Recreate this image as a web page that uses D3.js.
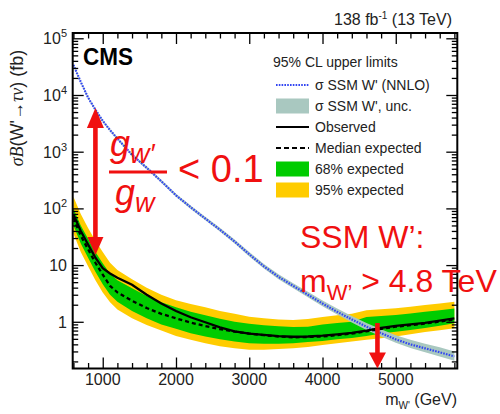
<!DOCTYPE html>
<html>
<head>
<meta charset="utf-8">
<script src="https://cdn.jsdelivr.net/npm/d3@7"></script>
<style>
  body { margin: 0; background: #fff; }
  text { font-family: "Liberation Sans", Arial, sans-serif; }
</style>
</head>
<body>
<div id="chart"></div>
<script>
// mass points (GeV) and limits (fb)
var masses = [600, 700, 800, 900, 1000, 1100, 1200, 1400, 1600, 1800, 2000, 2200, 2400, 2600, 2800,
              3000, 3200, 3400, 3600, 3800, 4000, 4200, 4400, 4600, 4800, 5000, 5200, 5400, 5600, 5800];
var observed = [78, 40, 23, 13.5, 8.8, 7.1, 6.0, 4.5, 3.0, 2.1, 1.55, 1.2, 0.98, 0.8, 0.68,
                0.62, 0.59, 0.56, 0.545, 0.55, 0.57, 0.60, 0.64, 0.70, 0.78, 0.85, 0.90, 0.96, 1.05, 1.15];
var expected = [68, 33, 19, 11, 6.8, 4.3, 3.3, 2.35, 1.75, 1.38, 1.15, 0.97, 0.84, 0.74, 0.67,
                0.62, 0.58, 0.55, 0.53, 0.54, 0.55, 0.58, 0.62, 0.68, 0.75, 0.82, 0.87, 0.93, 1.01, 1.10];
var exp68Lo = [50, 24, 13.5, 7.6, 4.6, 3.0, 2.25, 1.55, 1.15, 0.9, 0.75, 0.63, 0.55, 0.49, 0.45,
               0.42, 0.41, 0.41, 0.42, 0.44, 0.46, 0.49, 0.52, 0.56, 0.62, 0.67, 0.72, 0.78, 0.85, 0.94];
var exp68Hi = [100, 50, 29, 17, 10.8, 7.0, 5.4, 3.9, 2.85, 2.2, 1.8, 1.5, 1.3, 1.13, 1.0,
               0.92, 0.87, 0.83, 0.81, 0.82, 0.90, 0.95, 1.0, 1.22, 1.26, 1.32, 1.4, 1.5, 1.6, 1.72];
var exp95Lo = [36, 17, 9.5, 5.4, 3.3, 2.2, 1.65, 1.15, 0.88, 0.7, 0.56, 0.48, 0.42, 0.37, 0.34,
               0.32, 0.32, 0.33, 0.34, 0.36, 0.39, 0.42, 0.45, 0.48, 0.51, 0.55, 0.6, 0.66, 0.71, 0.77];
var exp95Hi = [160, 80, 45, 27, 17, 11, 8.2, 5.6, 4.0, 3.0, 2.4, 2.05, 1.8, 1.55, 1.38,
               1.23, 1.15, 1.1, 1.08, 1.12, 1.22, 1.3, 1.38, 1.6, 1.66, 1.73, 1.85, 1.97, 2.1, 2.25];
var theory = [34000, 17000, 9000, 5500, 3500, 2400, 1700, 880, 520, 300, 170, 105, 66, 42, 26,
              15.5, 9.5, 6.2, 4.3, 3.0, 2.1, 1.5, 1.1, 0.82, 0.63, 0.49, 0.40, 0.34, 0.29, 0.245];
var theoryLo = [32600, 16300, 8600, 5270, 3350, 2290, 1620, 835, 492, 283, 160, 98, 61.5, 39, 24,
                14.2, 8.7, 5.65, 3.9, 2.7, 1.88, 1.34, 0.97, 0.72, 0.55, 0.425, 0.345, 0.29, 0.245, 0.205];
var theoryHi = [35400, 17700, 9400, 5750, 3660, 2520, 1790, 930, 552, 320, 182, 113, 71.5, 45.5, 28.3,
                17, 10.5, 6.9, 4.8, 3.38, 2.38, 1.71, 1.27, 0.95, 0.74, 0.58, 0.48, 0.41, 0.355, 0.3];

var xTicks = [1000, 2000, 3000, 4000, 5000];
var yTicks = [1, 10, 100, 1000, 10000, 100000];
var yTickExp = [0, 1, 2, 3, 4, 5];

var legendItems = ["\u03c3 SSM W' (NNLO)", "\u03c3 SSM W', unc.", "Observed", "Median expected", "68% expected", "95% expected"];

// annotation anchors (data coordinates)
var couplingMass = 900, couplingTop = 5900, couplingBottom = 15;
var limitMass = 4750, limitTop = 0.95;

var colGreen = "#00cc00", colYellow = "#ffcc00", colTheoryBand = "#a9c8c0", colTheory = "#3346f2", colRed = "#f01010";

var frame = { left: 72.7, right: 457.3, top: 33, bottom: 368.5 };

var svg = d3.select("#chart")
    .append("svg")
    .attr("width", 500)
    .attr("height", 414);

var x = d3.scaleLinear().domain([590, 5840]).range([frame.left, frame.right]);
var y = d3.scaleLog().domain([0.15, 1.24e5]).range([frame.bottom, frame.top]);

svg.append("clipPath").attr("id", "clip")
    .append("rect")
    .attr("x", frame.left).attr("y", frame.top)
    .attr("width", frame.right - frame.left).attr("height", frame.bottom - frame.top);

var plot = svg.append("g").attr("clip-path", "url(#clip)");

function band(lo, hi) {
    return d3.area()
        .x(function (d, i) { return x(masses[i]); })
        .y0(function (d, i) { return y(lo[i]); })
        .y1(function (d, i) { return y(hi[i]); })(masses);
}
function line(vals) {
    return d3.line()
        .x(function (d, i) { return x(masses[i]); })
        .y(function (d) { return y(d); })(vals);
}

plot.append("path").attr("d", band(exp95Lo, exp95Hi)).attr("fill", colYellow);
plot.append("path").attr("d", band(exp68Lo, exp68Hi)).attr("fill", colGreen);
plot.append("path").attr("d", band(theoryLo, theoryHi)).attr("fill", colTheoryBand);
plot.append("path").attr("d", line(theory))
    .attr("fill", "none").attr("stroke", colTheory).attr("stroke-width", 2.2)
    .attr("stroke-dasharray", "1.6,1.2");
plot.append("path").attr("d", line(expected))
    .attr("fill", "none").attr("stroke", "#000").attr("stroke-width", 2.3)
    .attr("stroke-dasharray", "4,3");
plot.append("path").attr("d", line(observed))
    .attr("fill", "none").attr("stroke", "#000").attr("stroke-width", 2.3);

// minor ticks
var xMinor = d3.range(600, 5801, 200).filter(function (m) { return m % 1000 != 0; });
var yMinor = [];
[0.1, 1, 10, 100, 1000, 10000].forEach(function (dec) {
    for (var k = 2; k <= 9; k++) yMinor.push(dec * k);
});
yMinor = yMinor.filter(function (v) { return v > 0.15 && v < 1.24e5; });

function tickAxis(axis, transform) {
    var g = svg.append("g").attr("transform", transform).call(axis);
    g.select(".domain").remove();
    g.selectAll("line").attr("stroke", "#000").attr("stroke-width", 1.3);
    return g;
}
tickAxis(d3.axisBottom(x).tickValues(xTicks).tickSize(-11).tickFormat(""), "translate(0," + frame.bottom + ")");
tickAxis(d3.axisBottom(x).tickValues(xMinor).tickSize(-5.5).tickFormat(""), "translate(0," + frame.bottom + ")");
tickAxis(d3.axisTop(x).tickValues(xTicks).tickSize(-11).tickFormat(""), "translate(0," + frame.top + ")");
tickAxis(d3.axisTop(x).tickValues(xMinor).tickSize(-5.5).tickFormat(""), "translate(0," + frame.top + ")");
tickAxis(d3.axisLeft(y).tickValues(yTicks).tickSize(-11).tickFormat(""), "translate(" + frame.left + ",0)");
tickAxis(d3.axisLeft(y).tickValues(yMinor).tickSize(-5.5).tickFormat(""), "translate(" + frame.left + ",0)");
tickAxis(d3.axisRight(y).tickValues(yTicks).tickSize(-11).tickFormat(""), "translate(" + frame.right + ",0)");
tickAxis(d3.axisRight(y).tickValues(yMinor).tickSize(-5.5).tickFormat(""), "translate(" + frame.right + ",0)");

// frame
svg.append("rect")
    .attr("x", frame.left).attr("y", frame.top)
    .attr("width", frame.right - frame.left).attr("height", frame.bottom - frame.top)
    .attr("fill", "none").attr("stroke", "#000").attr("stroke-width", 2);

// x tick labels
svg.selectAll(".xlab").data(xTicks).enter().append("text")
    .attr("class", "xlab")
    .attr("x", function (d) { return x(d); })
    .attr("y", 385)
    .attr("text-anchor", "middle")
    .attr("font-size", 16)
    .attr("fill", "#222")
    .text(function (d) { return d; });

// y tick labels
yTicks.forEach(function (v, i) {
    var e = yTickExp[i];
    var t = svg.append("text")
        .attr("x", 67)
        .attr("y", y(v) + 6)
        .attr("text-anchor", "end")
        .attr("font-size", 16)
        .attr("fill", "#222");
    if (e < 2) {
        t.text(v);
    } else {
        t.append("tspan").text("10");
        t.append("tspan").attr("font-size", 11).attr("dy", -7).text(e);
    }
});

// axis titles
var yl = svg.append("text")
    .attr("transform", "translate(23,108) rotate(-90)")
    .attr("text-anchor", "middle")
    .attr("font-size", 18)
    .attr("fill", "#222");
yl.append("tspan").attr("font-family", "Liberation Serif").attr("font-style", "italic").text("\u03c3B");
yl.append("tspan").text("(W'");
yl.append("tspan").text("\u2192");
yl.append("tspan").attr("font-family", "Liberation Serif").attr("font-style", "italic").text("\u03c4\u03bd");
yl.append("tspan").text(")  (fb)");

var xl = svg.append("text")
    .attr("x", 457).attr("y", 405)
    .attr("text-anchor", "end")
    .attr("font-size", 16)
    .attr("fill", "#222");
xl.append("tspan").text("m");
xl.append("tspan").attr("font-size", 10).attr("dy", 4).text("W'");
xl.append("tspan").attr("dy", -4).text(" (GeV)");

var lumi = svg.append("text")
    .attr("x", 452).attr("y", 25)
    .attr("text-anchor", "end")
    .attr("font-size", 16)
    .attr("fill", "#222");
lumi.append("tspan").text("138 fb");
lumi.append("tspan").attr("font-size", 10).attr("dy", -6).text("-1");
lumi.append("tspan").attr("dy", 6).text(" (13 TeV)");

svg.append("text")
    .attr("x", 83).attr("y", 65)
    .attr("font-size", 24)
    .attr("font-weight", "bold")
    .attr("textLength", 50)
    .attr("lengthAdjust", "spacingAndGlyphs")
    .text("CMS");

// legend
var lg = svg.append("g");
lg.append("text").attr("x", 273).attr("y", 67).attr("font-size", 14).attr("fill", "#222").text("95% CL upper limits");
var rowY = function (i) { return 85 + i * 21; };
lg.selectAll(".lt").data(legendItems).enter().append("text")
    .attr("class", "lt")
    .attr("x", 315)
    .attr("y", function (d, i) { return rowY(i) + 5; })
    .attr("font-size", 14)
    .attr("fill", "#222")
    .text(function (d) { return d; });
lg.append("line").attr("x1", 276).attr("x2", 309).attr("y1", rowY(0)).attr("y2", rowY(0))
    .attr("stroke", colTheory).attr("stroke-width", 2).attr("stroke-dasharray", "1.6,1.2");
lg.append("rect").attr("x", 276).attr("y", rowY(1) - 7.5).attr("width", 33).attr("height", 15).attr("fill", colTheoryBand);
lg.append("line").attr("x1", 276).attr("x2", 309).attr("y1", rowY(2)).attr("y2", rowY(2))
    .attr("stroke", "#000").attr("stroke-width", 2.2);
lg.append("line").attr("x1", 276).attr("x2", 309).attr("y1", rowY(3)).attr("y2", rowY(3))
    .attr("stroke", "#000").attr("stroke-width", 2.2).attr("stroke-dasharray", "5,3");
lg.append("rect").attr("x", 276).attr("y", rowY(4) - 7.5).attr("width", 33).attr("height", 15).attr("fill", colGreen);
lg.append("rect").attr("x", 276).attr("y", rowY(5) - 7.5).attr("width", 33).attr("height", 15).attr("fill", colYellow);

// red annotations
var ann = svg.append("g").attr("fill", colRed);
var ax = x(couplingMass), aTop = y(couplingTop), aBot = y(couplingBottom);
ann.append("rect").attr("x", ax - 2.3).attr("y", aTop + 15).attr("width", 4.6).attr("height", aBot - aTop - 30);
ann.append("path").attr("d", "M" + ax + "," + aTop + " L" + (ax - 8.5) + "," + (aTop + 20) + " L" + (ax + 8.5) + "," + (aTop + 20) + " Z");
ann.append("path").attr("d", "M" + ax + "," + aBot + " L" + (ax - 8) + "," + (aBot - 18) + " L" + (ax + 8) + "," + (aBot - 18) + " Z");

var lx = x(limitMass), lTop = y(limitTop);
ann.append("rect").attr("x", lx - 2.3).attr("y", lTop).attr("width", 4.6).attr("height", frame.bottom - lTop - 14);
ann.append("path").attr("d", "M" + lx + "," + frame.bottom + " L" + (lx - 8.5) + "," + (frame.bottom - 16) + " L" + (lx + 8.5) + "," + (frame.bottom - 16) + " Z");

// coupling fraction
var serif = "Liberation Serif, DejaVu Serif, serif";
var num = ann.append("text").attr("x", 110).attr("y", 156).attr("font-family", serif).attr("font-style", "italic").attr("font-size", 36);
num.append("tspan").text("g");
num.append("tspan").attr("font-size", 27).attr("dy", 7).text("w\u2032");
ann.append("rect").attr("x", 109).attr("y", 170.5).attr("width", 58).attr("height", 3);
var den = ann.append("text").attr("x", 115).attr("y", 205).attr("font-family", serif).attr("font-style", "italic").attr("font-size", 36);
den.append("tspan").text("g");
den.append("tspan").attr("font-size", 27).attr("dy", 7).text("w");
ann.append("text").attr("x", 178).attr("y", 182).attr("font-family", serif).attr("font-size", 38).text("< 0.1");

// mass limit text
ann.append("text").attr("x", 300).attr("y", 248).attr("font-family", "Lato, sans-serif").attr("font-size", 32).text("SSM W\u2019:");
var ml = ann.append("text").attr("x", 300).attr("y", 292).attr("font-family", "Lato, sans-serif").attr("font-size", 32);
ml.append("tspan").text("m");
ml.append("tspan").attr("font-size", 22).attr("dy", 8).text("W\u2019");
ml.append("tspan").attr("dy", -8).text(" > 4.8 TeV");
</script>
</body>
</html>
